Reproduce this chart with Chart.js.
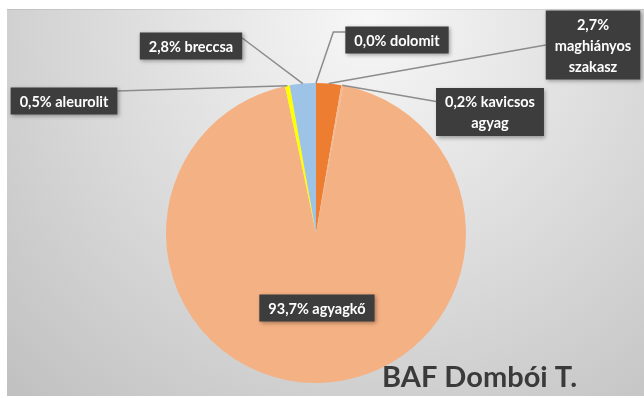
<!DOCTYPE html>
<html>
<head>
<meta charset="utf-8">
<script src="https://cdn.jsdelivr.net/npm/chart.js@4/dist/chart.umd.min.js"></script>
<style>
html,body{margin:0;padding:0;background:#fff;}
canvas{display:block;}
</style>
</head>
<body>
<canvas id="c" width="644" height="398"></canvas>
<script>
// ---- data ----
const categories = ["dolomit", "maghiányos szakasz", "kavicsos agyag", "agyagkő", "aleurolit", "breccsa"];
const percentLabels = ["0,0%", "2,7%", "0,2%", "93,7%", "0,5%", "2,8%"];
const shares = [0.0, 2.7, 0.2, 93.7, 0.5, 2.8];
const sliceColors = ["#A5A5A5", "#ED7D31", "#F6B88E", "#F4B183", "#FFFF00", "#9DC3E6"];
const chartTitle = "BAF Dombói T.";

// label text lines (layout of text only)
const labelLines = [
  ["0,0% dolomit"],
  ["2,7%", "maghiányos", "szakasz"],
  ["0,2% kavicsos", "agyag"],
  ["93,7% agyagkő"],
  ["0,5% aleurolit"],
  ["2,8% breccsa"]
];
// label box centres (null = inside slice)
const labelCenters = [[397, 40], [593, 45], [490, 112], null, [64, 101], [191, 46]];

const FONT = "bold 14.5px Lato, 'Open Sans', sans-serif";
const LH = 21;
const PADX = 9;

const bgPlugin = {
  id: 'bg',
  beforeDraw(chart) {
    const ctx = chart.ctx;
    ctx.save();
    ctx.fillStyle = '#ffffff';
    ctx.fillRect(0, 0, chart.width, chart.height);
    const g = ctx.createRadialGradient(370, 20, 0, 370, 20, 560);
    g.addColorStop(0, '#f7f7f7');
    g.addColorStop(1, '#bcbcbc');
    ctx.fillStyle = g;
    ctx.fillRect(7, 9, 637, 387);
    ctx.fillStyle = 'rgba(0,0,0,0.08)';
    ctx.fillRect(7, 9, 637, 1);
    ctx.restore();
  }
};

function boxSize(ctx, lines) {
  ctx.font = FONT;
  let w = 0;
  lines.forEach(t => { w = Math.max(w, ctx.measureText(t).width); });
  return { bw: w + PADX * 2, bh: lines.length * LH + 6 };
}

function drawBox(ctx, cx, cy, lines) {
  const { bw, bh } = boxSize(ctx, lines);
  const x0 = cx - bw / 2, y0 = cy - bh / 2;
  ctx.save();
  ctx.shadowColor = 'rgba(0,0,0,0.35)';
  ctx.shadowBlur = 4;
  ctx.shadowOffsetX = 1.5;
  ctx.shadowOffsetY = 1.5;
  ctx.fillStyle = '#3d3d3d';
  ctx.fillRect(x0, y0, bw, bh);
  ctx.restore();
  ctx.fillStyle = '#ffffff';
  ctx.font = FONT;
  ctx.textAlign = 'center';
  ctx.textBaseline = 'middle';
  lines.forEach((t, i) => {
    ctx.fillText(t, cx, y0 + 3 + LH * i + LH / 2 + 1);
  });
}

const labelPlugin = {
  id: 'labels',
  afterDatasetsDraw(chart) {
    const ctx = chart.ctx;
    const arcs = chart.getDatasetMeta(0).data;
    ctx.save();
    arcs.forEach((arc, i) => {
      const p = arc.getProps(['x', 'y', 'startAngle', 'endAngle', 'outerRadius'], true);
      const mid = (p.startAngle + p.endAngle) / 2;
      const ax = p.x + Math.cos(mid) * p.outerRadius;
      const ay = p.y + Math.sin(mid) * p.outerRadius;
      const c = labelCenters[i];
      if (!c) return;
      const { bw, bh } = boxSize(ctx, labelLines[i]);
      let tx, ty;
      if (c[0] > ax + 20) {
        tx = c[0] - bw / 2;
        ty = labelLines[i].length > 1 ? c[1] - bh / 2 + 3 + LH * (labelLines[i].length === 3 ? 1.5 : 0.5) : c[1] - 8;
      } else if (c[0] < ax - 20) {
        tx = c[0] + bw / 2; ty = c[1] - 8;
        if (i === 4) ty = c[1] - 10;
      } else { tx = c[0] - bw / 2; ty = c[1] - 8; }
      ctx.strokeStyle = '#8c8c8c';
      ctx.lineWidth = 1.5;
      ctx.beginPath();
      ctx.moveTo(ax, ay);
      if (i === 0) { ctx.lineTo(tx - 12, ty); }
      ctx.lineTo(tx, ty);
      ctx.stroke();
    });
    arcs.forEach((arc, i) => {
      const p = arc.getProps(['x', 'y', 'startAngle', 'endAngle', 'outerRadius'], true);
      const mid = (p.startAngle + p.endAngle) / 2;
      let c = labelCenters[i];
      if (!c) c = [p.x + Math.cos(mid) * p.outerRadius * 0.5, p.y + Math.sin(mid) * p.outerRadius * 0.5];
      drawBox(ctx, c[0], c[1], labelLines[i]);
    });
    // title
    ctx.fillStyle = '#3a3a3a';
    ctx.font = "bold 29px Lato, 'Open Sans', sans-serif";
    ctx.textAlign = 'left';
    ctx.textBaseline = 'alphabetic';
    ctx.fillText(chartTitle, 382, 387);
    ctx.restore();
  }
};

new Chart(document.getElementById('c'), {
  type: 'pie',
  data: {
    labels: categories,
    datasets: [{
      data: shares,
      backgroundColor: sliceColors,
      borderWidth: 0
    }]
  },
  options: {
    responsive: false,
    animation: false,
    layout: { padding: { left: 166, right: 178, top: 83, bottom: 15 } },
    plugins: {
      legend: { display: false },
      tooltip: { enabled: false },
      title: { display: false }
    }
  },
  plugins: [bgPlugin, labelPlugin]
});
</script>
</body>
</html>
